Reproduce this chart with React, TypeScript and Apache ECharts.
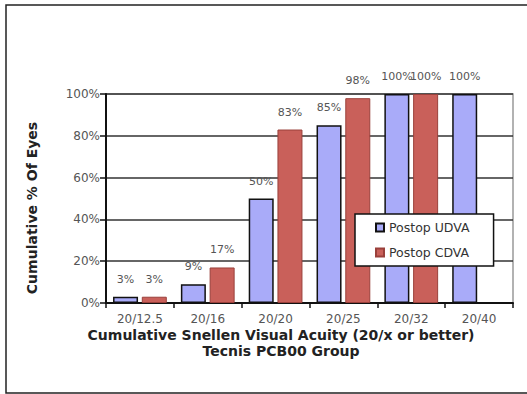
import React, { useEffect, useRef } from "react";
import * as echarts from "echarts";

const categories = ["20/12.5", "20/16", "20/20", "20/25", "20/32", "20/40"];
const udva = [3, 9, 50, 85, 100, 100];
const cdva: (number | null)[] = [3, 17, 83, 98, 100, null];
const seriesNames = ["Postop UDVA", "Postop CDVA"];
const yTitle = "Cumulative % Of Eyes";
const xTitle1 = "Cumulative Snellen Visual Acuity (20/x or better)";
const xTitle2 = "Tecnis PCB00 Group";

const FONT = "DejaVu Sans";

export default function App() {
  const ref = useRef<HTMLDivElement>(null);
  useEffect(() => {
    document.body.style.margin = "0";
    document.body.style.overflow = "hidden";
    const chart = echarts.init(ref.current!, undefined, { renderer: "svg" });
    const label = {
      show: true,
      position: "top",
      distance: 12,
      color: "#555",
      fontSize: 11,
      fontFamily: FONT,
      formatter: "{c}%",
    };
    chart.setOption({
      animation: false,
      backgroundColor: "#fff",
      textStyle: { fontFamily: FONT },
      grid: {
        left: 106,
        right: 14,
        top: 94,
        bottom: 91,
        show: true,
        borderColor: "#999",
        borderWidth: 1.5,
        backgroundColor: "transparent",
      },
      legend: {
        orient: "vertical",
        left: 355,
        top: 214,
        data: seriesNames,
        icon: "rect",
        itemWidth: 8,
        itemHeight: 8,
        itemGap: 12,
        padding: [7, 24, 7, 20],
        backgroundColor: "#fff",
        borderColor: "#111",
        borderWidth: 1.5,
        borderRadius: 0,
        textStyle: { color: "#333", fontSize: 12.5, fontFamily: FONT },
      },
      xAxis: {
        type: "category",
        data: categories,
        axisLine: { lineStyle: { color: "#111", width: 2 } },
        axisTick: { show: true, interval: 0, length: 5, lineStyle: { color: "#111", width: 1.5 } },
        axisLabel: { color: "#555", fontSize: 12, fontFamily: FONT, margin: 10 },
        splitLine: { show: false },
      },
      yAxis: {
        type: "value",
        min: 0,
        max: 100,
        interval: 20,
        axisLine: { show: true, lineStyle: { color: "#111", width: 2 } },
        axisTick: { show: true, length: 6, lineStyle: { color: "#111", width: 1.5 } },
        axisLabel: { color: "#555", fontSize: 12, fontFamily: FONT, formatter: "{value}%", margin: 6 },
        splitLine: { show: true, lineStyle: { color: "#333", width: 1.5 } },
      },
      series: [
        {
          name: seriesNames[0],
          type: "bar",
          data: udva,
          barWidth: 25,
          barGap: "15%",
          itemStyle: { color: "#a9abf9", borderColor: "#111", borderWidth: 1.5 },
          label,
        },
        {
          name: seriesNames[1],
          type: "bar",
          data: cdva,
          barWidth: 25,
          itemStyle: { color: "#c9605a", borderColor: "#9a403b", borderWidth: 1 },
          label,
        },
      ],
      graphic: [
        {
          type: "polyline",
          shape: { points: [[540, 5], [6, 5], [6, 393], [540, 393]] },
          style: { fill: "none", stroke: "#222", lineWidth: 1.5 },
          silent: true,
        },
        {
          type: "text",
          x: 32,
          y: 208,
          rotation: Math.PI / 2,
          style: {
            text: yTitle,
            fill: "#222",
            font: `bold 14px "${FONT}"`,
            align: "center",
            verticalAlign: "middle",
          },
        },
        {
          type: "text",
          x: 281,
          y: 335,
          style: {
            text: xTitle1,
            fill: "#222",
            font: `bold 14px "${FONT}"`,
            align: "center",
            verticalAlign: "middle",
          },
        },
        {
          type: "text",
          x: 281,
          y: 351,
          style: {
            text: xTitle2,
            fill: "#222",
            font: `bold 14px "${FONT}"`,
            align: "center",
            verticalAlign: "middle",
          },
        },
      ],
    });
    return () => chart.dispose();
  }, []);
  return <div ref={ref} style={{ width: 527, height: 394 }} />;
}
